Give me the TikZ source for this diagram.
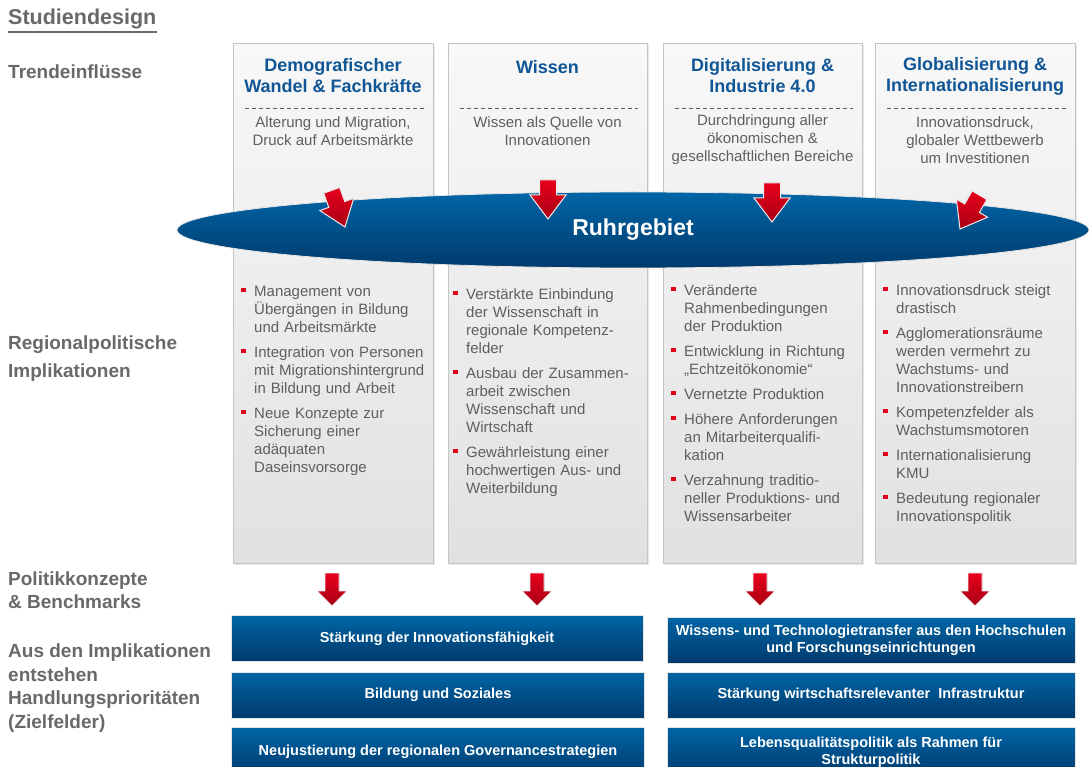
\documentclass[tikz,border=0pt]{standalone}
\usepackage{fontspec}
\setmainfont{Liberation Sans}
\usetikzlibrary{shapes.geometric,shadows}
\definecolor{hblue}{RGB}{16,86,150}
\definecolor{tgray}{RGB}{95,95,95}
\definecolor{lgray}{RGB}{105,105,105}
\definecolor{bTop}{RGB}{0,101,166}
\definecolor{bBot}{RGB}{0,58,108}
\definecolor{rTop}{RGB}{232,0,28}
\definecolor{rBot}{RGB}{168,0,20}
\definecolor{bul}{RGB}{226,0,26}
\definecolor{boxTop}{RGB}{248,248,248}
\definecolor{boxBot}{RGB}{225,225,225}
\definecolor{boxLine}{RGB}{196,196,196}
\newcommand\bitem[1]{\par\hangindent=13pt\hangafter=1\noindent\makebox[13pt][l]{\textcolor{bul}{\rule[4pt]{4.5pt}{4.5pt}}}#1\par}
\begin{document}
\begin{tikzpicture}[x=1pt,y=-1pt,
 colbox/.style={draw=boxLine, line width=0.8pt, top color=boxTop, bottom color=boxBot, minimum height=520pt, anchor=north west, inner sep=0pt, drop shadow={shadow xshift=1.5pt,shadow yshift=-1.5pt,opacity=0.18}},
 head/.style={font=\fontsize{18}{21}\selectfont\bfseries, text=hblue, align=center, inner sep=0pt},
 desc/.style={font=\fontsize{15}{18}\selectfont, text=tgray, align=center, inner sep=0pt},
 lst/.style={font=\fontsize{15}{18}\selectfont, text=tgray, text width=200pt, align=left, anchor=north west, inner sep=0pt},
 sep/.style={draw=tgray, dash pattern=on 4pt off 3pt, line width=0.6pt},
 bluebox/.style={draw=white!80!gray, line width=0.8pt, top color=bTop, bottom color=bBot, text=white, font=\fontsize{14.5}{17}\selectfont\bfseries, align=center, inner sep=0pt, minimum height=46pt},
 lbl/.style={font=\fontsize{19}{23.5}\selectfont\bfseries, text=lgray, align=left, anchor=west, inner sep=0pt},
 bigarrow/.pic={\filldraw[draw=white!85!gray, line width=1pt, top color=rTop, bottom color=rBot] (0,0) -- (-18,-24) -- (-8.5,-24) -- (-8.5,-39) -- (8.5,-39) -- (8.5,-24) -- (18,-24) -- cycle;},
 smallarrow/.pic={\filldraw[draw=white!85!gray, line width=0.8pt, top color=rTop, bottom color=rBot] (0,0) -- (-15,-15) -- (-7,-15) -- (-7,-33) -- (7,-33) -- (7,-15) -- (15,-15) -- cycle;}
]
\useasboundingbox (0,0) rectangle (1089,767);
\clip (0,0) rectangle (1089,767);
\fill[white] (0,0) rectangle (1089,767);

% column boxes
\node[colbox, minimum width=200pt] (b1) at (233,43) {};
\node[colbox, minimum width=199pt] (b2) at (448,43) {};
\node[colbox, minimum width=199pt] (b3) at (663,43) {};
\node[colbox, minimum width=200pt] (b4) at (875,43) {};

% headings
\node[head] (h1) at (333,76) {Demografischer\\Wandel \& Fachkräfte};
\node[head] (h2) at (547.5,67) {Wissen};
\node[head] (h3) at (762.5,76) {Digitalisierung \&\\Industrie 4.0};
\node[head] (h4) at (975,76) {Globalisierung \&\\Internationalisierung};

% separators
\foreach \b in {b1,b2,b3,b4}
  \draw[sep] ([xshift=12pt,yshift=-65pt]\b.north west) -- ([xshift=-10pt,yshift=-65pt]\b.north east);

% descriptions
\node[desc] (d1) at (333,131) {Alterung und Migration,\\Druck auf Arbeitsmärkte};
\node[desc] (d2) at (547.5,131) {Wissen als Quelle von\\Innovationen};
\node[desc] (d3) at (762.5,140) {Durchdringung aller\\ökonomischen \&\\gesellschaftlichen Bereiche};
\node[desc] (d4) at (975,140) {Innovationsdruck,\\globaler Wettbewerb\\um Investitionen};

% lists
\node[lst] (l1) at (241,271) {\setlength{\parskip}{7pt}%
\bitem{Management von\newline Übergängen in Bildung\newline und Arbeitsmärkte}
\bitem{Integration von Personen\newline mit Migrationshintergrund\newline in Bildung und Arbeit}
\bitem{Neue Konzepte zur\newline Sicherung einer\newline adäquaten\newline Daseinsvorsorge}};
\node[lst] (l2) at (453,274) {\setlength{\parskip}{7pt}%
\bitem{Verstärkte Einbindung\newline der Wissenschaft in\newline regionale Kompetenz-\newline felder}
\bitem{Ausbau der Zusammen-\newline arbeit zwischen\newline Wissenschaft und\newline Wirtschaft}
\bitem{Gewährleistung einer\newline hochwertigen Aus- und\newline Weiterbildung}};
\node[lst] (l3) at (671,270) {\setlength{\parskip}{7pt}%
\bitem{Veränderte\newline Rahmenbedingungen\newline der Produktion}
\bitem{Entwicklung in Richtung\newline „Echtzeitökonomie“}
\bitem{Vernetzte Produktion}
\bitem{Höhere Anforderungen\newline an Mitarbeiterqualifi-\newline kation}
\bitem{Verzahnung traditio-\newline neller Produktions- und\newline Wissensarbeiter}};
\node[lst] (l4) at (883,270) {\setlength{\parskip}{7pt}%
\bitem{Innovationsdruck steigt\newline drastisch}
\bitem{Agglomerationsräume\newline werden vermehrt zu\newline Wachstums- und\newline Innovationstreibern}
\bitem{Kompetenzfelder als\newline Wachstumsmotoren}
\bitem{Internationalisierung\newline KMU}
\bitem{Bedeutung regionaler\newline Innovationspolitik}};

% Ruhrgebiet ellipse
\node[ellipse, draw=white!80!gray, line width=0.8pt, top color=bTop, bottom color=bBot, minimum width=912pt, minimum height=76pt, inner sep=0pt, text=white, font=\fontsize{23}{26}\selectfont\bfseries] (ruhr) at (633,230) {Ruhrgebiet};

% arrows onto ellipse
\pic[rotate=20] (a1) at (345,227) {bigarrow};
\pic (a2) at (548,219) {bigarrow};
\pic (a3) at (772,222) {bigarrow};
\pic[rotate=-30] (a4) at (960,229) {bigarrow};

% arrows down
\pic (s1) at (332,606) {smallarrow};
\pic (s2) at (537,606) {smallarrow};
\pic (s3) at (760,606) {smallarrow};
\pic (s4) at (975,606) {smallarrow};

% blue boxes
\node[bluebox, minimum width=412pt] (p1) at (437,638.5) {Stärkung der Innovationsfähigkeit};
\node[bluebox, minimum width=413pt] (p2) at (438,695) {Bildung und Soziales};
\node[bluebox, minimum width=413pt, minimum height=50pt] (p3) at (438,752) {Neujustierung der regionalen Governancestrategien};
\node[bluebox, minimum width=408pt] (q1) at (871,640.5) {Wissens- und Technologietransfer aus den Hochschulen\\und Forschungseinrichtungen};
\node[bluebox, minimum width=408pt] (q2) at (871,695) {Stärkung wirtschaftsrelevanter\ \ Infrastruktur};
\node[bluebox, minimum width=408pt, minimum height=50pt] (q3) at (871,752) {Lebensqualitätspolitik als Rahmen für\\Strukturpolitik};

% left labels
\node[lbl, font=\fontsize{21.5}{24}\selectfont\bfseries] (t0) at (8,19) {Studiendesign};
\draw[lgray, line width=1.6pt] ([yshift=-3pt]t0.south west) -- ([yshift=-3pt]t0.south east);
\node[lbl] (t1) at (8,72) {Trendeinflüsse};
\node[lbl, font=\fontsize{19}{28}\selectfont\bfseries] (t2) at (8,359) {Regionalpolitische\\Implikationen};
\node[lbl] (t3) at (8,590) {Politikkonzepte\\\& Benchmarks};
\node[lbl] (t4) at (8,688) {Aus den Implikationen\\entstehen\\Handlungsprioritäten\\(Zielfelder)};
\end{tikzpicture}
\end{document}
